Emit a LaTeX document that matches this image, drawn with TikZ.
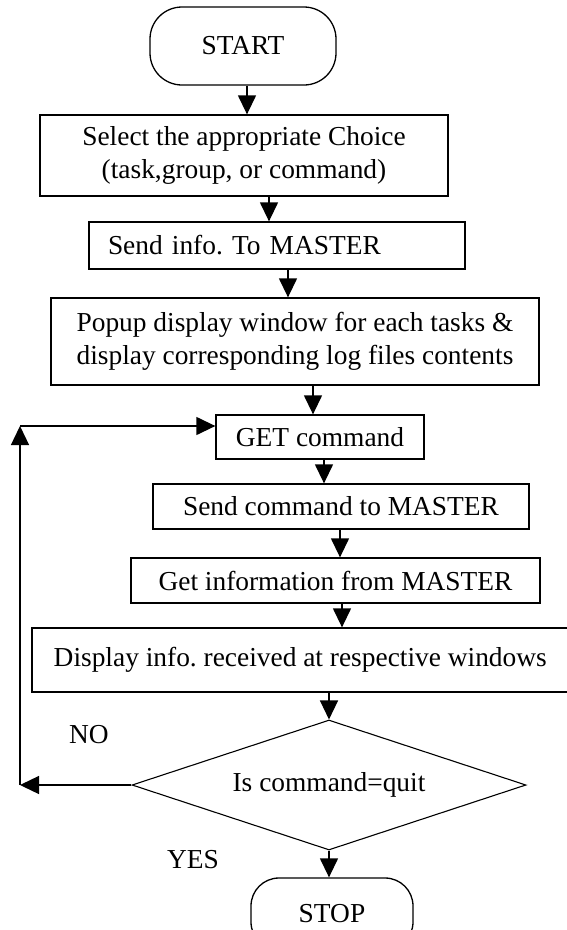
\documentclass[tikz,border=0pt]{standalone}
\usepackage{fontspec}
\setmainfont{Liberation Serif}
\usetikzlibrary{arrows.meta,shapes.geometric}
\begin{document}
\frenchspacing
\begin{tikzpicture}[x=1pt,y=-1pt,
  txt/.style={font=\fontsize{27.4}{33}\selectfont},
  box/.style={txt,draw,line width=1.3pt,inner sep=0pt,align=center},
  term/.style={box,rounded corners=32pt},
  arr/.style={line width=1.3pt,-{Triangle[length=19pt,width=18pt]}},
  lbl/.style={txt,inner sep=0pt}]
\useasboundingbox (0,0) rectangle (567,930);
\node[term,minimum width=186pt,minimum height=78pt] (start) at (243,46) {START};
\node[box,minimum width=408pt,minimum height=81pt] (b1) at (244,155.5)
  {Select the appropriate Choice\\(task,group, or command)};
\node[box,minimum width=376pt,minimum height=47pt,inner xsep=19pt,text width=338pt,align=left] (b2) at (277,245.5)
  {Send info. To MASTER};
\node[box,minimum width=488pt,minimum height=87pt] (b3) at (295,341.5)
  {Popup display window for each tasks \&\\display corresponding log files contents};
\node[box,minimum width=208pt,minimum height=44pt] (get) at (320,437) {GET command};
\node[box,minimum width=376pt,minimum height=45pt] (send) at (341,506.5) {Send command to MASTER};
\node[box,minimum width=409pt,minimum height=45pt] (info) at (335.5,580.5) {Get information from MASTER};
\node[box,minimum width=536.5pt,minimum height=64pt] (disp) at (300.25,660)
  {Display info. received at respective windows};
\node[box,diamond,aspect=3,line width=1.1pt,minimum width=394pt,minimum height=130pt] (dec) at (329,785) {Is command=quit};
\node[term,rounded corners=28pt,minimum width=162pt,minimum height=72pt] (stop) at (332,914) {STOP};
\node[lbl] (no) at (89,735) {NO};
\node[lbl] (yes) at (193,860) {YES};
\coordinate (lb) at (20,785);
\coordinate (lt) at (20,426);
\draw[arr] ([xshift=4pt]start.south) -- ([xshift=4pt]start.south |- b1.north);
\draw[arr] ([xshift=25pt]b1.south) -- ([xshift=25pt]b1.south |- b2.north);
\draw[arr] ([xshift=11pt]b2.south) -- ([xshift=11pt]b2.south |- b3.north);
\draw[arr] ([xshift=18pt]b3.south) -- ([xshift=18pt]b3.south |- get.north);
\draw[arr] ([xshift=4pt]get.south) -- ([xshift=4pt]get.south |- send.north);
\draw[arr] ([xshift=-1pt]send.south) -- ([xshift=-1pt]send.south |- info.north);
\draw[arr] ([xshift=6.5pt]info.south) -- ([xshift=6.5pt]info.south |- disp.north);
\draw[arr] (dec.north |- disp.south) -- (dec.north);
\draw[arr] (dec.south) -- (dec.south |- stop.north);
\draw[arr] (dec.west) -- (lb);
\draw[arr] (lb) -- (lt);
\draw[arr] (lt) -- (lt -| get.west);
\end{tikzpicture}
\end{document}
